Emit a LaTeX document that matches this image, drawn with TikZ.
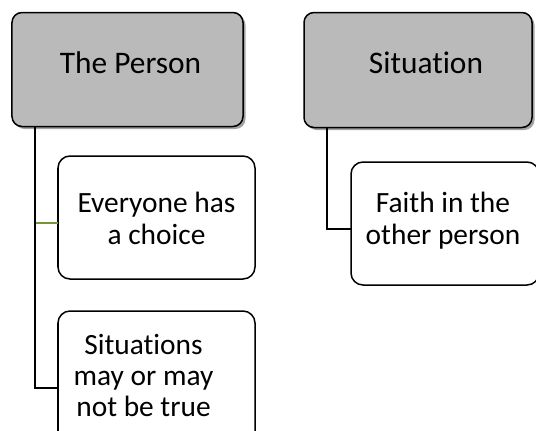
\documentclass[tikz,border=0pt]{standalone}
\usepackage{fontspec}
\setmainfont{Carlito}[Ligatures={NoCommon}]
\usetikzlibrary{shadows}
\definecolor{boxgray}{HTML}{BABABA}
\definecolor{leafline}{HTML}{77933C}
\begin{document}
\begin{tikzpicture}[x=1bp,y=-1bp,
  topic/.style={draw=black, line width=1.5bp, fill=boxgray, rounded corners=10bp,
    rectangle, inner sep=0pt, outer sep=0pt,
    drop shadow={shadow xshift=2.5bp, shadow yshift=-2.5bp, fill=black!45, opacity=0.8}},
  leaf/.style={draw=black, line width=1.5bp, fill=white, rounded corners=12bp,
    rectangle, inner sep=0pt, outer sep=0pt},
  toptext/.style={font=\fontsize{31.5}{36}\selectfont, inner sep=0pt},
  leaftext/.style={font=\fontsize{29.5}{31.5}\selectfont, align=center, inner sep=0pt},
  stem/.style={line width=1.5bp, draw=black},
  branch/.style={line width=1.5bp, draw=leafline}]
\useasboundingbox (0,0) rectangle (536,430);
\clip (0,0) rectangle (536,430);

% top-level boxes
\node[topic, minimum width=231bp, minimum height=114bp,
  label={[toptext, xshift=3bp, yshift=7bp]center:The Person}] (person) at (127.5,69.5) {};
\node[topic, minimum width=228bp, minimum height=115bp,
  label={[toptext, xshift=8bp, yshift=7bp]center:Situation}] (situation) at (418,70) {};

% child boxes
\node[leaf, minimum width=197bp, minimum height=123bp,
  label={[leaftext, yshift=-1bp]center:Everyone has\\a choice}] (choice) at (156.5,217.5) {};
\node[leaf, minimum width=197bp, minimum height=143bp,
  label={[leaftext, xshift=-13bp, yshift=7bp]center:Situations\\may or may\\not be true}] (untrue) at (156.5,382.5) {};
\node[leaf, minimum width=188bp, minimum height=123bp,
  label={[leaftext, xshift=-2bp, yshift=3bp]center:Faith in the\\other person}] (faith) at (445,223.5) {};

% connectors
\coordinate (pstem) at ([xshift=23bp]person.south west);
\coordinate (sstem) at ([xshift=23bp]situation.south west);
\coordinate (cj) at ([yshift=-5.5bp]choice.west);
\draw[branch] (cj) -- (cj -| pstem);
\draw[stem] (pstem) |- ([yshift=-5.5bp]untrue.west);
\draw[stem] (sstem) |- ([yshift=-5.5bp]faith.west);
\end{tikzpicture}
\end{document}
